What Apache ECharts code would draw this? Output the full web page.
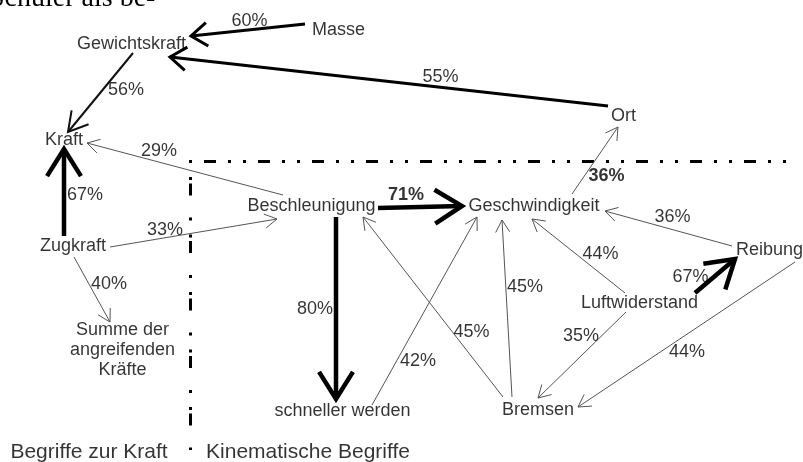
<!DOCTYPE html>
<html>
<head>
<meta charset="utf-8">
<script src="https://cdn.jsdelivr.net/npm/echarts@6/dist/echarts.min.js"></script>
<style>
  html, body { margin: 0; padding: 0; background: #fff; }
  #main { width: 803px; height: 462px; }
</style>
</head>
<body>
<div id="main"></div>
<script>
// Begriffe der Concept-Map und ihre Lage im Bild
const nodeNames = ['Masse', 'Gewichtskraft', 'Ort', 'Kraft', 'Beschleunigung', 'Geschwindigkeit',
  'Zugkraft', 'Reibung', 'Luftwiderstand', 'Summe der\nangreifenden\nKräfte', 'schneller werden', 'Bremsen'];
const nodeX = [338.5, 131.5, 623.5, 64, 311.5, 534, 73, 769.5, 639.5, 122.5, 342.5, 538];
const nodeY = [30, 44, 116, 140, 206, 206, 246, 250, 303, 350.5, 411, 410];

// Verbindungen (Pfeile): Anteil in %, Gewichtsklasse, Anfangs- und Endpunkt
const edgeFrom = ['Masse', 'Ort', 'Gewichtskraft', 'Beschleunigung', 'Zugkraft', 'Beschleunigung',
  'Geschwindigkeit', 'Reibung', 'Luftwiderstand', 'Zugkraft', 'Zugkraft', 'Beschleunigung',
  'Bremsen', 'Bremsen', 'schneller werden', 'Luftwiderstand', 'Luftwiderstand', 'Reibung'];
const edgeTo = ['Gewichtskraft', 'Gewichtskraft', 'Kraft', 'Kraft', 'Kraft', 'Geschwindigkeit',
  'Ort', 'Geschwindigkeit', 'Geschwindigkeit', 'Beschleunigung', 'Summe', 'schneller werden',
  'Geschwindigkeit', 'Beschleunigung', 'Geschwindigkeit', 'Reibung', 'Bremsen', 'Bremsen'];
const edgePct = [60, 55, 56, 29, 67, 71, 36, 36, 44, 33, 40, 80, 45, 45, 42, 67, 35, 44];
const edgeClass = [3, 3, 2, 1, 4, 4, 1, 1, 1, 1, 1, 4, 1, 1, 1, 4, 1, 1];
const edgeBold = [0, 0, 0, 0, 0, 1, 1, 0, 0, 0, 0, 0, 0, 0, 0, 0, 0, 0];
const edgeX1 = [305, 608, 133, 283, 64, 378, 572, 732, 625, 110, 74, 336, 512, 503, 372, 695, 626, 795];
const edgeY1 = [24, 106, 53, 195, 236, 208, 194, 246, 293, 247, 257, 217, 397, 397, 405, 293, 312, 262];
const edgeX2 = [191, 170, 68, 87, 64, 462, 618, 605, 532, 277, 110, 336, 502, 363, 477, 735, 538, 578];
const edgeY2 = [36, 57, 132, 143, 149, 206, 127, 211, 219, 219, 322, 399, 220, 217, 217, 259, 398, 407];
const pctX = [249.5, 440.5, 126, 159, 85, 406, 606.5, 672.5, 600.5, 165, 109, 315, 525, 471.5, 418, 690.5, 581, 687];
const pctY = [21.5, 77.5, 90.5, 151, 195.5, 195.5, 176.5, 217.5, 254.5, 230, 284.5, 309.5, 287, 332.5, 361.5, 277.5, 336, 352.5];

// Trennlinien zwischen den Bereichen
const dividerX1 = [189, 190.5];
const dividerY1 = [161.5, 177];
const dividerX2 = [786, 190.5];
const dividerY2 = [161.5, 450];

const areaNames = ['Begriffe zur Kraft', 'Kinematische Begriffe'];
const areaX = [89, 308];
const areaY = [452, 452];

const FONT = '"Liberation Sans", Arial, sans-serif';

const classStyle = {
  1: { width: 1, color: '#555', head: 14, ang: 30 },
  2: { width: 2, color: '#111', head: 22, ang: 30 },
  3: { width: 3, color: '#000', head: 20, ang: 36 },
  4: { width: 4.5, color: '#000', head: 32, ang: 32 }
};

function arrowHead(tip, from, len, angDeg) {
  const dx = from[0] - tip[0], dy = from[1] - tip[1];
  const d = Math.hypot(dx, dy);
  const ux = dx / d, uy = dy / d;
  const a = angDeg * Math.PI / 180;
  const c = Math.cos(a), s = Math.sin(a);
  return [
    [tip[0] + len * (ux * c - uy * s), tip[1] + len * (ux * s + uy * c)],
    tip,
    [tip[0] + len * (ux * c + uy * s), tip[1] + len * (-ux * s + uy * c)]
  ];
}

const edgeData = edgePct.map((p, i) => [edgeX1[i], edgeY1[i], edgeX2[i], edgeY2[i], edgeClass[i]]);
const dividerData = dividerX1.map((x, i) => [x, dividerY1[i], dividerX2[i], dividerY2[i], i]);

const nodeData = nodeNames.map((n, i) => ({ name: n, value: [nodeX[i], nodeY[i]] }));
const pctData = edgePct.map((p, i) => ({
  name: p + '%',
  value: [pctX[i], pctY[i]],
  label: { fontWeight: edgeBold[i] ? 'bold' : 'normal' }
}));
const areaData = areaNames.map((n, i) => ({ name: n, value: [areaX[i], areaY[i]] }));

let myChart = echarts.init(document.getElementById('main'));
let option = {
  animation: false,
  backgroundColor: '#fff',
  grid: { left: 0, right: 0, top: 0, bottom: 0 },
  xAxis: { type: 'value', min: 0, max: 803, show: false },
  yAxis: { type: 'value', min: 0, max: 462, inverse: true, show: false },
  graphic: [
    {
      type: 'text',
      x: -11,
      y: -1.5,
      style: {
        text: 'Schüler als be-',
        font: '28px "Liberation Serif", "Times New Roman", serif',
        fill: '#000',
        verticalAlign: 'middle'
      }
    }
  ],
  series: [
    {
      type: 'custom',
      name: 'dividers',
      clip: false,
      data: dividerData,
      renderItem: function (params, api) {
        const p1 = api.coord([api.value(0), api.value(1)]);
        const p2 = api.coord([api.value(2), api.value(3)]);
        const dash = api.value(4) === 0 ? [3, 12, 12, 12, 3, 12] : [3, 3.5, 12, 22, 3, 14];
        return {
          type: 'line',
          shape: { x1: p1[0], y1: p1[1], x2: p2[0], y2: p2[1] },
          style: { stroke: '#000', lineWidth: 3, lineDash: dash, lineCap: 'butt' }
        };
      }
    },
    {
      type: 'custom',
      name: 'edges',
      clip: false,
      data: edgeData,
      renderItem: function (params, api) {
        const p1 = api.coord([api.value(0), api.value(1)]);
        const p2 = api.coord([api.value(2), api.value(3)]);
        const st = classStyle[api.value(4)];
        return {
          type: 'group',
          children: [
            {
              type: 'line',
              shape: { x1: p1[0], y1: p1[1], x2: p2[0], y2: p2[1] },
              style: { stroke: st.color, lineWidth: st.width, lineCap: 'butt' }
            },
            {
              type: 'polyline',
              shape: { points: arrowHead(p2, p1, st.head, st.ang) },
              style: { stroke: st.color, lineWidth: st.width, fill: null, lineJoin: 'miter', lineCap: 'butt' }
            }
          ]
        };
      }
    },
    {
      type: 'scatter',
      name: 'nodes',
      symbolSize: 1,
      itemStyle: { color: 'rgba(0,0,0,0)' },
      data: nodeData,
      label: {
        show: true,
        position: 'inside',
        formatter: '{b}',
        color: '#000',
        fontSize: 18,
        lineHeight: 20,
        fontFamily: FONT,
        align: 'center'
      },
      z: 5
    },
    {
      type: 'scatter',
      name: 'percent',
      symbolSize: 1,
      itemStyle: { color: 'rgba(0,0,0,0)' },
      data: pctData,
      label: {
        show: true,
        position: 'inside',
        formatter: '{b}',
        color: '#000',
        fontSize: 18,
        fontFamily: FONT
      },
      z: 5
    },
    {
      type: 'scatter',
      name: 'areas',
      symbolSize: 1,
      itemStyle: { color: 'rgba(0,0,0,0)' },
      data: areaData,
      label: {
        show: true,
        position: 'inside',
        formatter: '{b}',
        color: '#000',
        fontSize: 21,
        fontFamily: FONT
      },
      z: 5
    }
  ]
};
myChart.setOption(option);
</script>
</body>
</html>
